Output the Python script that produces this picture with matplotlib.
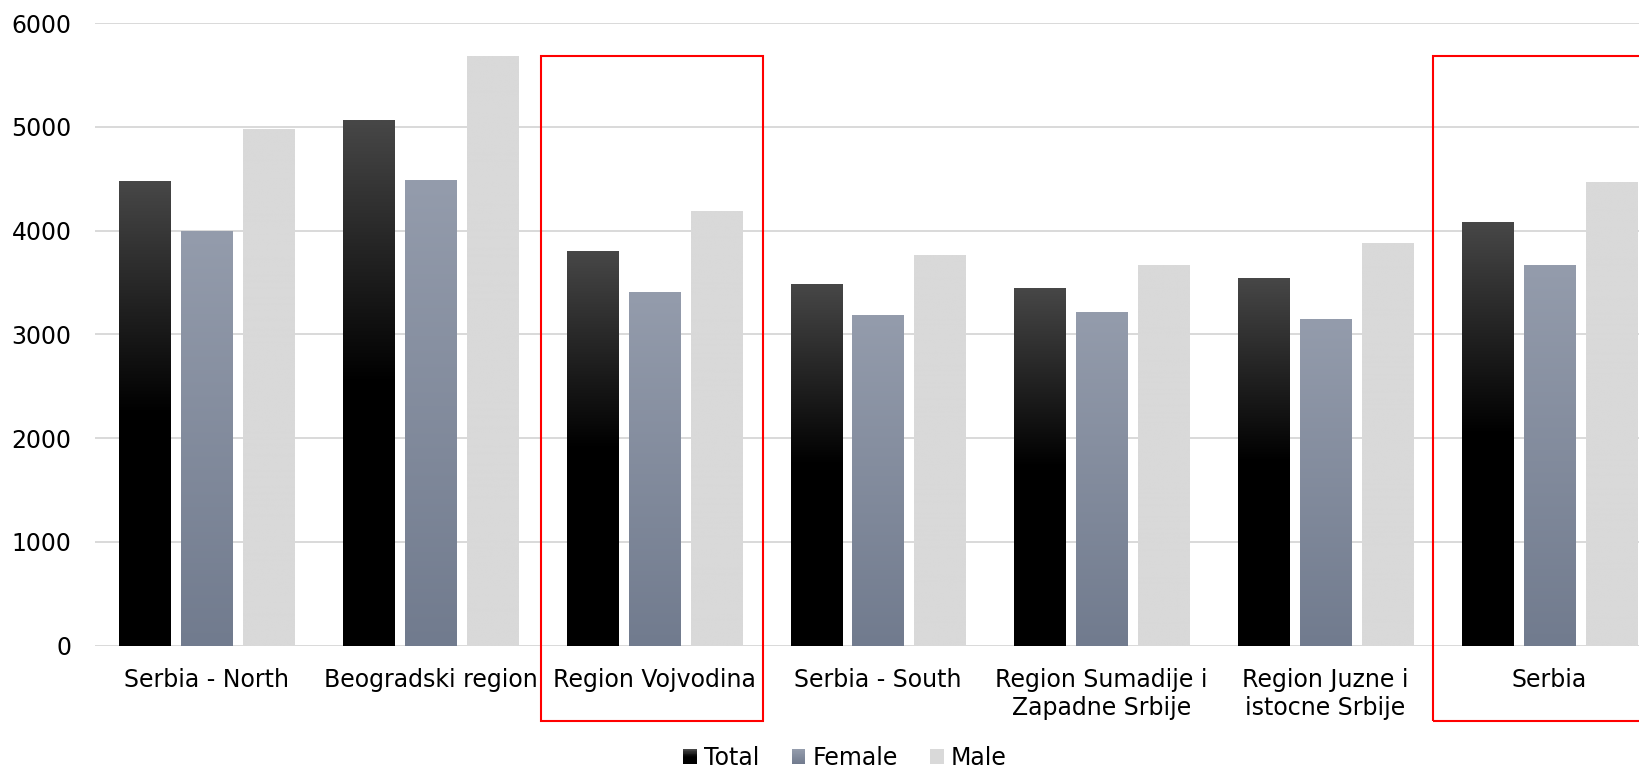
import numpy as np
import matplotlib
matplotlib.use("Agg")
import matplotlib.pyplot as plt
from matplotlib.patches import Rectangle
from matplotlib.legend_handler import HandlerBase
from matplotlib.colors import to_rgb

categories = ["Serbia - North", "Beogradski region", "Region Vojvodina",
              "Serbia - South", "Region Sumadije i\nZapadne Srbije",
              "Region Juzne i\nistocne Srbije", "Serbia"]
total = [4480, 5070, 3800, 3490, 3450, 3540, 4080]
female = [4000, 4490, 3410, 3190, 3220, 3150, 3670]
male = [4980, 5680, 4190, 3770, 3670, 3880, 4470]
series_names = ["Total", "Female", "Male"]
yticks = [0, 1000, 2000, 3000, 4000, 5000, 6000]
highlighted = [2, 6]

plt.rcParams['font.family'] = ['DejaVu Sans']

# gradient definitions: (top colour, bottom colour, fraction of height where bottom colour is reached)
grads = {
    "Total": ("#474747", "#000000", 0.5),
    "Female": ("#949cac", "#717b8e", 1.0),
    "Male": ("#d9d9d9", "#d9d9d9", 1.0),
}


def grad_colors(name, n=256):
    top, bot, stop = grads[name]
    t = np.array(to_rgb(top))
    b = np.array(to_rgb(bot))
    f = np.linspace(0, 1, n)
    ft = 1 - f
    w = np.clip(ft / stop, 0, 1)
    cols = t[None, :] * (1 - w[:, None]) + b[None, :] * w[:, None]
    return cols


fig = plt.figure(figsize=(16.39, 7.71), dpi=100)
ax = fig.add_axes([95 / 1639, 1 - 645.5 / 771, 1566 / 1639, (645.5 - 23.3) / 771])

x = np.arange(len(categories))
bw = 0.228
off = 0.277
data = [total, female, male]
for k, (name, vals) in enumerate(zip(series_names, data)):
    bars = ax.bar(x + (k - 1) * off, vals, width=bw, color='none', edgecolor='none', zorder=2)
    cols = grad_colors(name)
    img = cols[:, None, :]
    for b in bars:
        x0 = b.get_x()
        ax.imshow(img, extent=[x0, x0 + b.get_width(), 0, b.get_height()],
                  origin='lower', aspect='auto', interpolation='bilinear', zorder=2)

ax.set_xlim(-0.5, len(categories) - 0.5)
ax.set_ylim(0, 6000)
ax.set_aspect('auto')
ax.set_yticks(yticks)
ax.set_xticks(x)
ax.set_xticklabels(categories)
ax.tick_params(axis='both', length=0, labelsize=17, colors='black')
ax.tick_params(axis='x', pad=16)
ax.tick_params(axis='y', pad=17)
ax.yaxis.grid(True, color='#d9d9d9', linewidth=1.4, zorder=0)
ax.set_axisbelow(True)
for s in ax.spines.values():
    s.set_visible(False)

# highlight boxes
box_left = {2: -0.506, 6: -0.519}
box_width = {2: 0.992, 6: 1.2}
for i in highlighted:
    ax.add_patch(Rectangle((i + box_left[i], -725), box_width[i], 5688 + 725,
                           fill=False, edgecolor='#ff0000', linewidth=1.5,
                           clip_on=False, zorder=5))


class GradHandler(HandlerBase):
    def __init__(self, name):
        super().__init__()
        self.name = name

    def create_artists(self, legend, orig_handle, xdescent, ydescent, width, height, fontsize, trans):
        n = 20
        cols = grad_colors(self.name, n)
        arts = []
        for j in range(n):
            r = Rectangle((-xdescent, -ydescent + height * j / n), width, height / n + 0.01,
                          facecolor=cols[j], edgecolor='none', transform=trans)
            arts.append(r)
        return arts


handles = [Rectangle((0, 0), 1, 1) for _ in series_names]
hmap = {h: GradHandler(n) for h, n in zip(handles, series_names)}
fig.legend(handles, series_names, handler_map=hmap, loc='center', ncol=3,
           bbox_to_anchor=(845 / 1639, 1 - 758 / 771), frameon=False, fontsize=17,
           handlelength=0.59, handleheight=0.59, handletextpad=0.3, columnspacing=1.35,
           borderpad=0, borderaxespad=0)

fig.savefig("out.png", dpi=100)
